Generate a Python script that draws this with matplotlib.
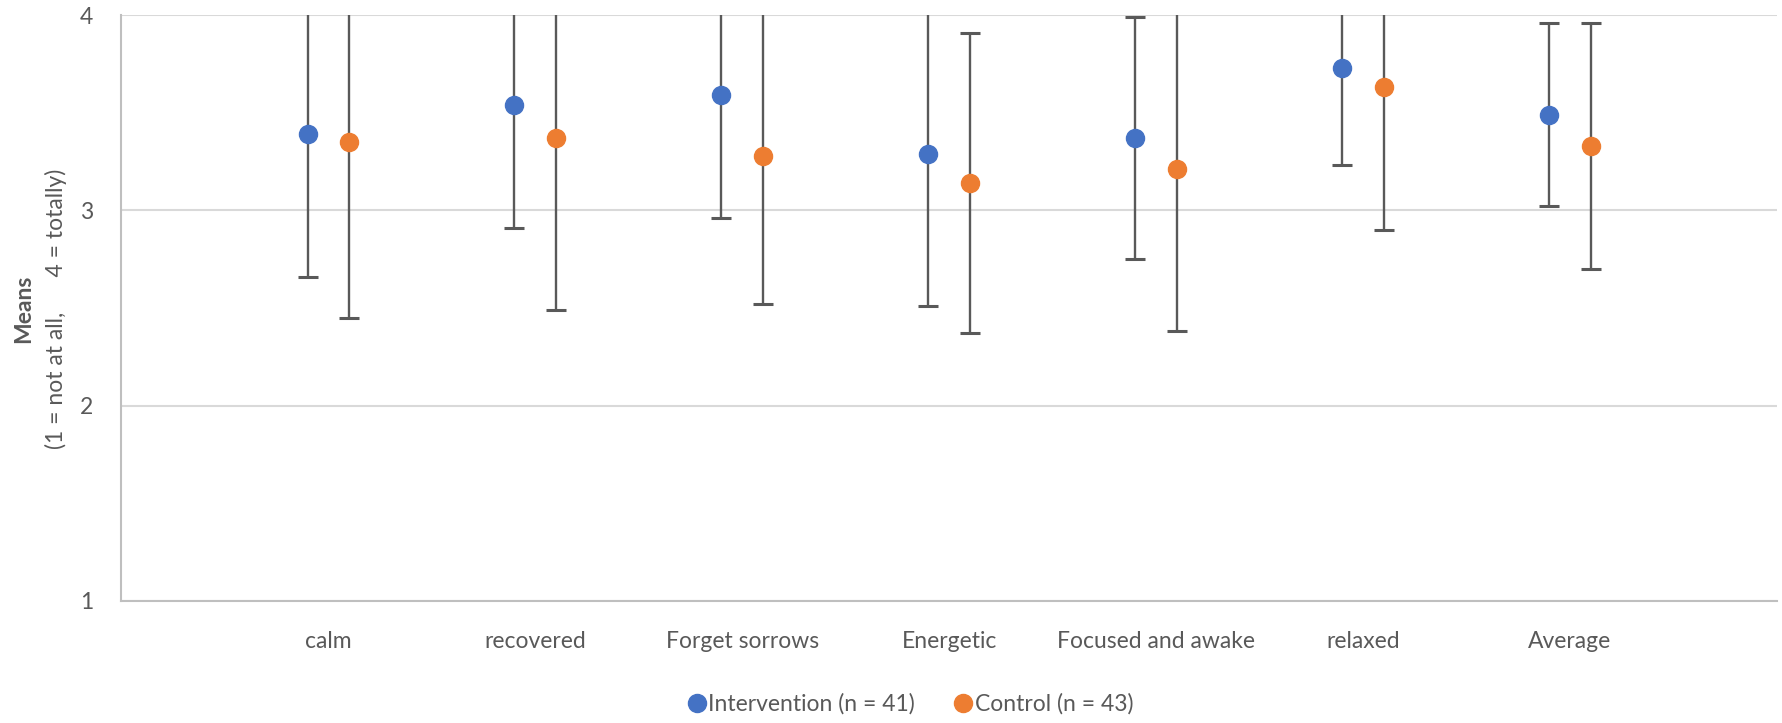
import matplotlib.pyplot as plt
import numpy as np

CATEGORIES = ['calm', 'recovered', 'Forget sorrows', 'Energetic',
              'Focused and awake', 'relaxed', 'Average']

# means and error (symmetric)
INTERVENTION_MEAN = [3.39, 3.54, 3.59, 3.29, 3.37, 3.73, 3.49]
INTERVENTION_ERR = [0.73, 0.63, 0.63, 0.78, 0.62, 0.50, 0.47]
CONTROL_MEAN = [3.35, 3.37, 3.28, 3.14, 3.21, 3.63, 3.33]
CONTROL_ERR = [0.90, 0.88, 0.76, 0.77, 0.83, 0.73, 0.63]

LABEL_INT = 'Intervention (n = 41)'
LABEL_CON = 'Control (n = 43)'

BLUE = '#4472C4'
ORANGE = '#ED7D31'
GRAY = '#595959'
FS = 16.5

plt.rcParams['font.family'] = ['Lato', 'DejaVu Sans']


def draw_series(ax, x, means, errs, color, label):
    ax.errorbar(x, means, yerr=errs, fmt='o', color=color, markersize=13,
                markeredgecolor=color, ecolor=GRAY, elinewidth=1.7,
                capsize=7, capthick=2.2, label=label, zorder=3)


def main():
    fig = plt.figure(figsize=(17.83, 7.23), dpi=100)
    ax = fig.add_axes([0.068, 0.169, 0.9286, 0.810])

    pos = np.arange(1, len(CATEGORIES) + 1)
    draw_series(ax, pos - 0.1, INTERVENTION_MEAN, INTERVENTION_ERR, BLUE, LABEL_INT)
    draw_series(ax, pos + 0.1, CONTROL_MEAN, CONTROL_ERR, ORANGE, LABEL_CON)

    ax.set_xlim(0, 8)
    ax.set_ylim(1, 4)
    ax.set_yticks([1, 2, 3, 4])
    ax.set_xticks(pos)
    ax.set_xticklabels(CATEGORIES)
    ax.tick_params(axis='both', length=0, labelsize=FS, colors=GRAY)
    ax.tick_params(axis='x', pad=22)
    ax.tick_params(axis='y', pad=20)

    ax.yaxis.grid(True, color='#d9d9d9', linewidth=1.5)
    ax.set_axisbelow(True)
    for side in ['top', 'right']:
        ax.spines[side].set_visible(False)
    for side in ['left', 'bottom']:
        ax.spines[side].set_color('#bfbfbf')
        ax.spines[side].set_linewidth(1.5)

    # two-line y label, first line bold
    fig.text(0.0135, 0.573, 'Means', rotation=90, ha='center', va='center',
             fontsize=FS, fontweight='bold', color=GRAY)
    fig.text(0.0315, 0.573, '(1 = not at all,      4 = totally)', rotation=90,
             ha='center', va='center', fontsize=FS, color=GRAY)

    handles, labels = ax.get_legend_handles_labels()
    handles = [h[0] for h in handles]
    fig.legend(handles, labels, loc='lower center', bbox_to_anchor=(0.51, -0.017),
               ncol=2, frameon=False, fontsize=FS, handletextpad=0.0,
               columnspacing=1.6, labelcolor=GRAY, handlelength=1.0)

    plt.savefig('out.png', dpi=100)


if __name__ == "__main__":
    main()
